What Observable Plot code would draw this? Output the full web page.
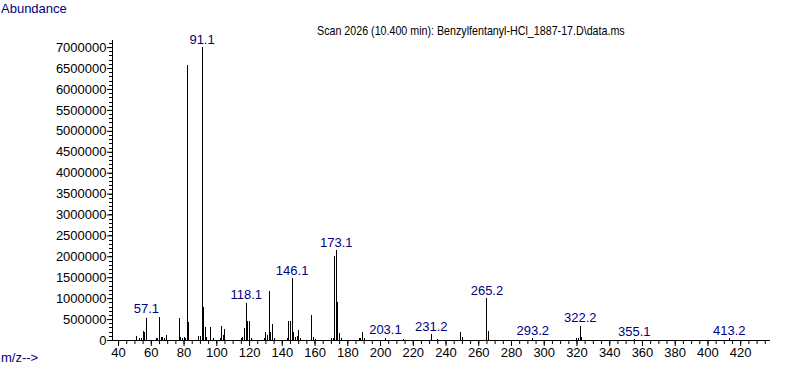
<!DOCTYPE html>
<html>
<head>
<meta charset="utf-8">
<script src="https://cdn.jsdelivr.net/npm/d3@7"></script>
<script src="https://cdn.jsdelivr.net/npm/@observablehq/plot@0.6"></script>
<style>
  body { margin: 0; background: #fff; }
  #wrap { position: relative; width: 787px; height: 367px; font-family: "Liberation Sans", Arial, sans-serif; }
  .lbl { position: absolute; white-space: nowrap; font-size: 13px; line-height: 1; }
  .title { transform: scaleX(0.822); transform-origin: 0 0; }
</style>
</head>
<body>
<div id="wrap">
  <div class="lbl" style="left:1px; top:2px; color:#000080;">Abundance</div>
  <div class="lbl title" style="left:317px; top:24px; color:#000;">Scan 2026 (10.400 min): Benzylfentanyl-HCl_1887-17.D\data.ms</div>
  <div class="lbl" style="left:1px; top:351px; color:#000080;">m/z--&gt;</div>
</div>
<script>
const masses = [51,53,54,55,56,57,63,64,65,66,67,68,69,77,78,79,80,81,82,83,89,90,91,92,93,94,96,98,102,103,104,105,115,116,117,118,119,120,121,129,130,131,132,133,134,135,143,144,145,146,147,148,149,150,151,158,159,160,170,171,172,173,174,175,176,187,188,189,190,203,214,231,235,249,250,265,266,293,320,321,322,323,355,413];
const abundances = [100000,40000,40000,220000,190000,525000,50000,40000,560000,60000,60000,40000,120000,520000,60000,50000,60000,40000,6580000,430000,90000,90000,7000000,780000,300000,60000,300000,40000,40000,330000,130000,260000,40000,60000,280000,890000,450000,450000,50000,50000,200000,110000,1170000,200000,380000,50000,40000,450000,450000,1480000,200000,60000,100000,230000,40000,600000,60000,30000,40000,50000,2000000,2150000,900000,160000,40000,40000,40000,180000,40000,50000,30000,140000,30000,180000,60000,1000000,210000,40000,40000,40000,340000,80000,20000,40000];
const labelMasses = [57,91,118,146,173,203,231,265,293,322,355,413];
const labelTexts = ["57.1","91.1","118.1","146.1","173.1","203.1","231.2","265.2","293.2","322.2","355.1","413.2"];
const yMajor = d3.range(0, 7000001, 500000);
const yMinor = d3.range(0, 7100001, 100000);
const xMajor = d3.range(40, 421, 20);
const xMinor = d3.range(40, 436, 5);

const peaks = masses.map((m, i) => ({m, a: abundances[i]}));
// label sits above the tallest peak within ±8 m/z of the labelled peak (collision avoidance)
const labels = labelMasses.map((m, i) => ({
  m,
  a: d3.max(peaks.filter(p => Math.abs(p.m - m) <= 8 && p.a < 6e6 || p.m === m), p => p.a),
  t: labelTexts[i]
}));

const chart = Plot.plot({
  width: 787,
  height: 367,
  marginLeft: 112,
  marginRight: 17,
  marginTop: 40,
  marginBottom: 27,
  style: {fontFamily: '"Liberation Sans", Arial, sans-serif', fontSize: "13px", background: "transparent", overflow: "visible"},
  x: {domain: [36.3, 438.2], axis: null},
  y: {domain: [0, 7170000], axis: null},
  marks: [
    Plot.ruleX(peaks, {x: "m", y: "a", stroke: "black", strokeWidth: 1, shapeRendering: "crispEdges"}),
    Plot.ruleX([36.3], {stroke: "black", shapeRendering: "crispEdges"}),
    Plot.ruleY([0], {stroke: "black", shapeRendering: "crispEdges"}),
    Plot.axisY({ticks: yMinor, tickSize: 3, fill: "none", label: null, shapeRendering: "crispEdges"}),
    Plot.axisY({ticks: yMajor, tickSize: 5, tickPadding: 1, tickFormat: d => String(d), label: null, fontSize: 13, fill: "black"}),
    Plot.axisX({ticks: xMinor, tickSize: 4, fill: "none", label: null}),
    Plot.axisX({ticks: xMajor, tickSize: 6, tickPadding: 1, tickFormat: d => String(d), label: null, fontSize: 13, fill: "black"}),
    Plot.text(labels, {x: "m", y: "a", text: "t", fill: "#000080", fontSize: 13, lineAnchor: "bottom", dy: -4})
  ]
});
document.getElementById("wrap").prepend(chart);
chart.style.position = "absolute";
chart.style.left = "0";
chart.style.top = "0";
</script>
</body>
</html>
